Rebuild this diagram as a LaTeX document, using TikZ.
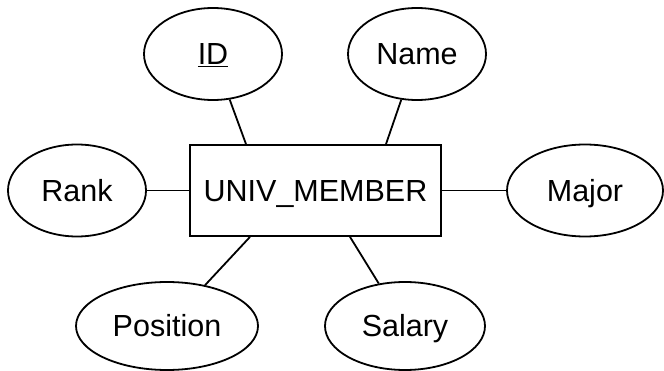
\documentclass[tikz,border=0pt]{standalone}
\usepackage{fontspec}
\setmainfont{Liberation Sans}
\usetikzlibrary{shapes.geometric}
\begin{document}
\begin{tikzpicture}[x=1pt,y=-1pt,
  line width=1.8pt,
  label text/.style={font=\fontsize{30.5}{36}\selectfont, text height=22pt, text depth=0pt},
  attr/.style={draw, ellipse, inner sep=0pt, label text},
  entity/.style={draw, rectangle, inner sep=0pt, minimum width=251pt, minimum height=91pt, label text},
  link/.style={draw, line width=1.8pt}]
  \useasboundingbox (0,0) rectangle (664,371);
  % entity
  \node[entity] (U) at (315.5,190.5) {UNIV\_MEMBER};
  % attributes
  \node[attr, minimum width=138pt, minimum height=92pt] (ID) at (213,54) {\underline{ID}};
  \node[attr, minimum width=138pt, minimum height=92pt] (Name) at (417,54) {Name};
  \node[attr, minimum width=138pt, minimum height=92pt] (Rank) at (77,190.5) {Rank};
  \node[attr, minimum width=156pt, minimum height=92pt] (Major) at (585,190.5) {Major};
  \node[attr, minimum width=182pt, minimum height=88pt] (Position) at (167,326) {Position};
  \node[attr, minimum width=160pt, minimum height=88pt] (Salary) at (405,326) {Salary};
  % connectors
  \draw[link] (ID) -- ([xshift=-69.5pt]U.north);
  \draw[link] (Name) -- ([xshift=70.5pt]U.north);
  \draw[link] (Rank) -- (U.west);
  \draw[link] (Major) -- (U.east);
  \draw[link] (Position) -- ([xshift=-65.5pt]U.south);
  \draw[link] (Salary) -- ([xshift=34.5pt]U.south);
\end{tikzpicture}
\end{document}
